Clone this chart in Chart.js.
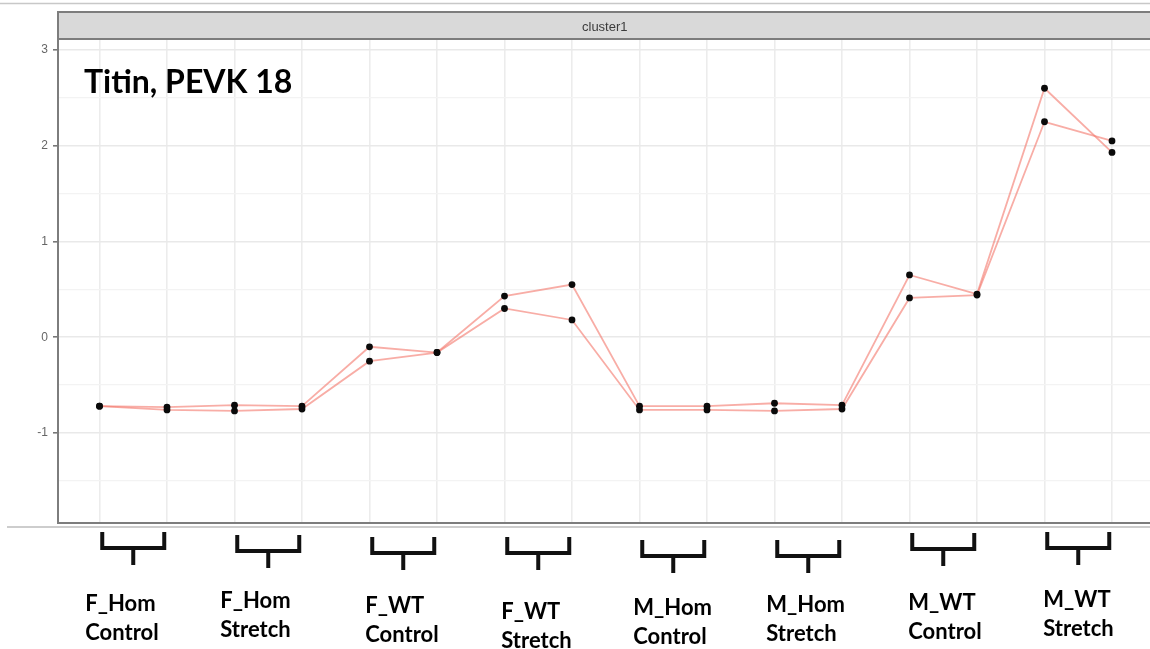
<!DOCTYPE html>
<html>
<head>
<meta charset="utf-8">
<script src="https://cdn.jsdelivr.net/npm/chart.js@4/dist/chart.umd.min.js"></script>
<style>
  html, body { margin: 0; padding: 0; background: #fff; overflow: hidden; width: 1150px; height: 649px; }
  #wrap { position: absolute; left: 0; top: 0; width: 1160px; height: 649px; }
</style>
</head>
<body>
<div id="wrap"><canvas id="c" width="1160" height="649"></canvas></div>
<script>
// Sample positions along the x axis (two replicates per condition)
const positions = [1, 2, 3, 4, 5, 6, 7, 8, 9, 10, 11, 12, 13, 14, 15, 16];

// Condition names, two text lines each
const groupLine1 = ['F_Hom', 'F_Hom', 'F_WT', 'F_WT', 'M_Hom', 'M_Hom', 'M_WT', 'M_WT'];
const groupLine2 = ['Control', 'Stretch', 'Control', 'Stretch', 'Control', 'Stretch', 'Control', 'Stretch'];

// Scaled expression for the two profiles in cluster1
const profileA = [-0.72, -0.73, -0.71, -0.72, -0.10, -0.16, 0.43, 0.55, -0.72, -0.72, -0.69, -0.71, 0.65, 0.45, 2.60, 1.93];
const profileB = [-0.72, -0.76, -0.77, -0.75, -0.25, -0.16, 0.30, 0.18, -0.76, -0.76, -0.77, -0.75, 0.41, 0.44, 2.25, 2.05];

// Y gridline values (integers labelled, halves are minor lines)
const yTickValues = [-1.5, -1, -0.5, 0, 0.5, 1, 1.5, 2, 2.5, 3];

const stripText = 'cluster1';
const plotTitle = 'Titin, PEVK 18';

// Hand-placed annotation offsets under the panel
const bracketTop = [532, 535, 537, 537, 540, 540, 533, 532];
const labelTop = [604, 601, 606, 612, 608, 605, 603, 600];
const labelShift = [-48, -48, -38, -37, -40, -42, -35, -35];

const toPoints = vals => positions.map((x, i) => ({ x: x, y: vals[i] }));

const lineStyle = {
  borderColor: 'rgba(243,122,112,0.62)',
  borderWidth: 1.8,
  pointRadius: 3.4,
  pointBackgroundColor: '#0a0a0a',
  pointBorderColor: '#0a0a0a',
  pointBorderWidth: 0,
  tension: 0,
  fill: false
};

const panelDecor = {
  id: 'panelDecor',
  afterDraw(chart) {
    const ctx = chart.ctx;
    const a = chart.chartArea;
    const xs = chart.scales.x;
    ctx.save();

    // thin rule across the top of the figure
    ctx.strokeStyle = '#c8c8c8';
    ctx.lineWidth = 1.5;
    ctx.beginPath(); ctx.moveTo(0, 3.5); ctx.lineTo(1160, 3.5); ctx.stroke();

    // facet strip
    const stripTop = 12;
    ctx.fillStyle = '#d9d9d9';
    ctx.fillRect(a.left, stripTop, a.right - a.left, a.top - stripTop);
    ctx.fillStyle = '#3c3c3c';
    ctx.font = '13px "Liberation Sans", Arial, sans-serif';
    ctx.textAlign = 'center';
    ctx.textBaseline = 'middle';
    ctx.fillText(stripText, (a.left + a.right) / 2 - 1, (stripTop + a.top) / 2 + 1);

    // panel border
    ctx.strokeStyle = '#7d7d7d';
    ctx.lineWidth = 2;
    ctx.strokeRect(a.left - 1, stripTop, a.right - a.left + 1, a.bottom - stripTop + 1);
    ctx.beginPath(); ctx.moveTo(a.left, a.top - 1); ctx.lineTo(a.right, a.top - 1); ctx.stroke();

    // rule below the panel
    ctx.strokeStyle = '#bdbdbd';
    ctx.lineWidth = 1.5;
    ctx.beginPath(); ctx.moveTo(7, a.bottom + 5); ctx.lineTo(1160, a.bottom + 5); ctx.stroke();

    // gene title
    ctx.fillStyle = '#000';
    ctx.font = 'bold 32px Lato, "Open Sans", sans-serif';
    ctx.textAlign = 'left';
    ctx.textBaseline = 'alphabetic';
    ctx.fillText(plotTitle, 84, 93);

    // condition brackets and labels
    ctx.strokeStyle = '#111';
    ctx.lineWidth = 4;
    ctx.lineCap = 'butt';
    for (let g = 0; g < groupLine1.length; g++) {
      const x1 = xs.getPixelForValue(positions[2 * g]);
      const x2 = xs.getPixelForValue(positions[2 * g + 1]);
      const mid = (x1 + x2) / 2;
      const half = 31;
      const top = bracketTop[g];
      const base = top + 16;
      ctx.beginPath();
      ctx.moveTo(mid - half, top); ctx.lineTo(mid - half, base);
      ctx.lineTo(mid + half, base); ctx.lineTo(mid + half, top);
      ctx.moveTo(mid, base); ctx.lineTo(mid, base + 17);
      ctx.stroke();

      ctx.fillStyle = '#000';
      ctx.font = 'bold 22px Lato, "Open Sans", sans-serif';
      ctx.textAlign = 'left';
      ctx.textBaseline = 'middle';
      const lx = mid + labelShift[g];
      ctx.fillText(groupLine1[g], lx, labelTop[g]);
      ctx.fillText(groupLine2[g], lx, labelTop[g] + 29);
    }
    ctx.restore();
  }
};

new Chart(document.getElementById('c'), {
  type: 'line',
  data: {
    datasets: [
      Object.assign({ label: 'profile A', data: toPoints(profileA) }, lineStyle),
      Object.assign({ label: 'profile B', data: toPoints(profileB) }, lineStyle)
    ]
  },
  options: {
    responsive: false,
    devicePixelRatio: 1,
    animation: false,
    events: [],
    layout: { padding: { left: 0, top: 40, right: 7.5, bottom: 127 } },
    plugins: { legend: { display: false }, tooltip: { enabled: false } },
    scales: {
      x: {
        type: 'linear',
        min: 0.4,
        max: 16.6,
        afterBuildTicks: s => { s.ticks = positions.map(v => ({ value: v })); },
        afterFit: s => { s.height = 0; },
        ticks: { display: false },
        grid: { color: '#ececec', lineWidth: 1.6, drawTicks: false },
        border: { display: false }
      },
      y: {
        type: 'linear',
        min: -1.93,
        max: 3.104,
        afterBuildTicks: s => { s.ticks = yTickValues.map(v => ({ value: v })); },
        afterFit: s => { s.width = 59; },
        ticks: {
          callback: v => (Number.isInteger(v) ? String(v) : ''),
          color: '#666',
          font: { family: '"Liberation Sans", Arial, sans-serif', size: 12 },
          padding: 5
        },
        grid: {
          color: c => (Number.isInteger(c.tick.value) ? '#e9e9e9' : '#f3f3f3'),
          lineWidth: c => (Number.isInteger(c.tick.value) ? 1.6 : 1.2),
          tickColor: c => (Number.isInteger(c.tick.value) ? '#777' : 'rgba(0,0,0,0)'),
          tickLength: 6
        },
        border: { display: false }
      }
    }
  },
  plugins: [panelDecor]
});
</script>
</body>
</html>
